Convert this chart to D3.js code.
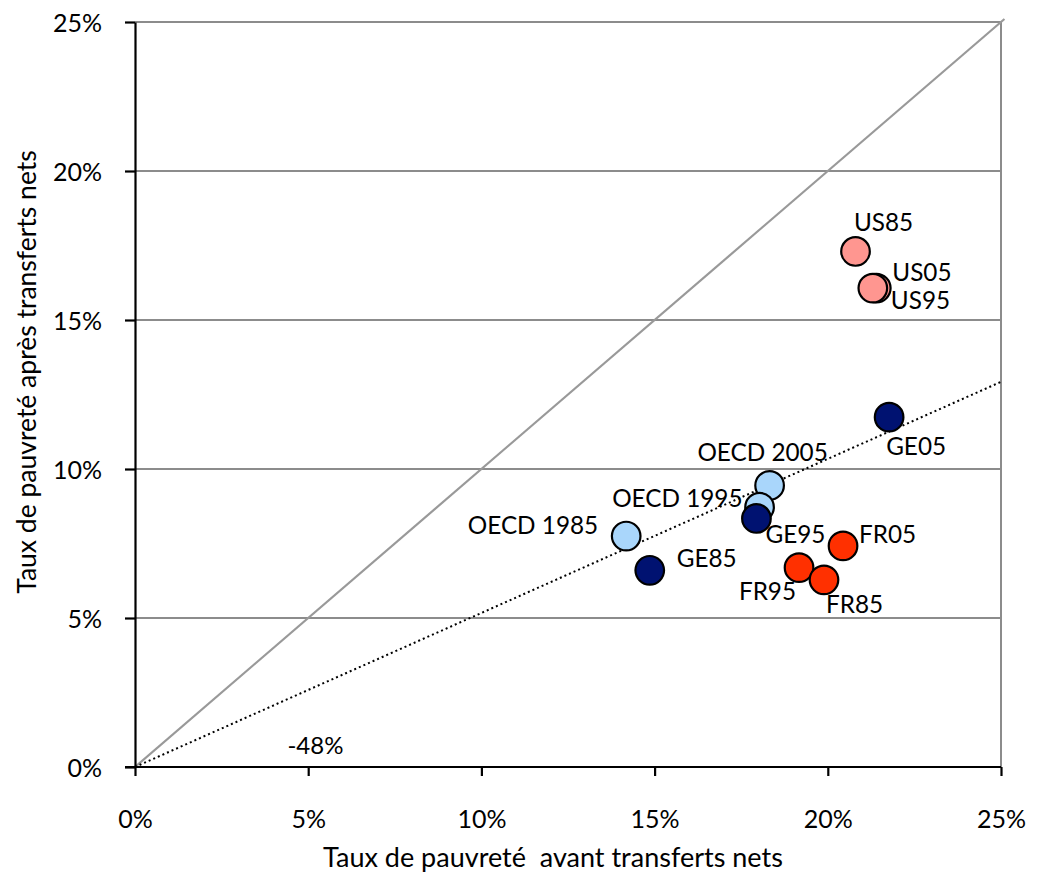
<!DOCTYPE html>
<html><head><meta charset="utf-8">
<script src="https://cdn.jsdelivr.net/npm/d3@7"></script>
<style>body{margin:0;background:#fff}svg{display:block}text{font-family:Lato,"Open Sans",sans-serif;fill:#000;white-space:pre}</style>
</head><body><svg id="c" width="1038" height="879"></svg>
<script>
const labels = ["US85","US05","US95","GE05","OECD 2005","OECD 1995","GE95","OECD 1985","GE85","FR95","FR85","FR05"];
const before = [20.8, 21.4, 21.3, 21.77, 18.32, 18.03, 17.94, 14.18, 14.86, 19.17, 19.89, 20.44];
const after  = [17.3, 16.07, 16.07, 11.74, 9.45, 8.72, 8.34, 7.75, 6.6, 6.69, 6.28, 7.42];
const groups = ["US","US","US","GE","OECD","OECD","GE","OECD","GE","FR","FR","FR"];
const xTicks = [0,5,10,15,20,25];
const yTicks = [0,5,10,15,20,25];
const trendSlope = 0.517;
const trendLabel = "-48%";
const xTitle = "Taux de pauvreté  avant transferts nets";
const yTitle = "Taux de pauvreté après transferts nets";

const colors = {US:"#ff9690", GE:"#001271", OECD:"#a9d6fb", FR:"#ff3000"};
// label offsets (dx, dy, anchor)
const labelPos = {
 "US85":[28,-29,"middle"], "US05":[16,-16,"start"], "US95":[18,12,"start"],
 "GE05":[27,29,"middle"], "OECD 2005":[-7,-33,"middle"], "OECD 1995":[-17,-9,"end"],
 "GE95":[9,16,"start"], "OECD 1985":[-28,-11,"end"], "GE85":[27,-12,"start"],
 "FR95":[-3,24,"end"], "FR85":[2,25,"start"], "FR05":[16,-11,"start"]
};

const svg = d3.select("#c");
const m = {l:135, r:1001, t:22, b:767};
const x = d3.scaleLinear().domain([0,25]).range([m.l, m.r]);
const y = d3.scaleLinear().domain([0,25]).range([m.b, m.t]);
const fs = 25;

// gridlines
svg.append("g").selectAll("line").data(yTicks.filter(d=>d>0)).join("line")
  .attr("x1", m.l).attr("x2", m.r).attr("y1", d=>y(d)).attr("y2", d=>y(d))
  .attr("stroke","#8c8c8c").attr("stroke-width",2);
svg.append("line").attr("x1",m.r).attr("x2",m.r).attr("y1",m.t).attr("y2",m.b)
  .attr("stroke","#8c8c8c").attr("stroke-width",2);

// diagonal
svg.append("line").attr("x1",x(0)).attr("y1",y(0)).attr("x2",x(25.1)).attr("y2",y(25.1))
  .attr("stroke","#999").attr("stroke-width",2.2);
// trend
svg.append("line").attr("x1",x(0)).attr("y1",y(0)).attr("x2",x(25)).attr("y2",y(25*trendSlope))
  .attr("stroke","#000").attr("stroke-width",2).attr("stroke-dasharray","2,3");
svg.append("text").attr("x",x(4.4)).attr("y",y(0.45)).attr("font-size",24).text(trendLabel);

// axes
const xa = svg.append("g").attr("transform",`translate(0,${m.b})`)
  .call(d3.axisBottom(x).tickValues(xTicks).tickFormat(d=>d+"%").tickSize(9).tickSizeOuter(0));
const ya = svg.append("g").attr("transform",`translate(${m.l},0)`)
  .call(d3.axisLeft(y).tickValues(yTicks).tickFormat(d=>d+"%").tickSize(10).tickSizeOuter(0));
[xa,ya].forEach(a=>{a.select(".domain").attr("stroke","#000").attr("stroke-width",2.2);
  a.selectAll(".tick line").attr("stroke","#000").attr("stroke-width",2.2);
  a.selectAll(".tick text").attr("font-size",fs).attr("font-family","Lato");});
xa.selectAll(".tick text").attr("dy",null).attr("y",61);
ya.selectAll(".tick text").attr("x",-33).attr("dy","0.36em");
xa.select(".domain").attr("d",`M${m.l-10},0H${m.r}`);

// points
const data = labels.map((l,i)=>({l, bx:before[i], ay:after[i], g:groups[i]}));
svg.append("g").selectAll("circle").data(data).join("circle")
  .attr("cx",d=>x(d.bx)).attr("cy",d=>y(d.ay)).attr("r",14.3)
  .attr("fill",d=>colors[d.g]).attr("stroke","#000").attr("stroke-width",2.2);
svg.append("g").selectAll("text").data(data).join("text")
  .attr("x",d=>x(d.bx)+labelPos[d.l][0]).attr("y",d=>y(d.ay)+labelPos[d.l][1])
  .attr("dy","0.35em").attr("text-anchor",d=>labelPos[d.l][2]).attr("font-size",24.3).text(d=>d.l);

// titles
svg.append("text").attr("x",553).attr("y",867).attr("text-anchor","middle").attr("font-size",27).text(xTitle);
svg.append("text").attr("transform","translate(36,372) rotate(-90)").attr("text-anchor","middle").attr("font-size",26.5).text(yTitle);
</script></body></html>
